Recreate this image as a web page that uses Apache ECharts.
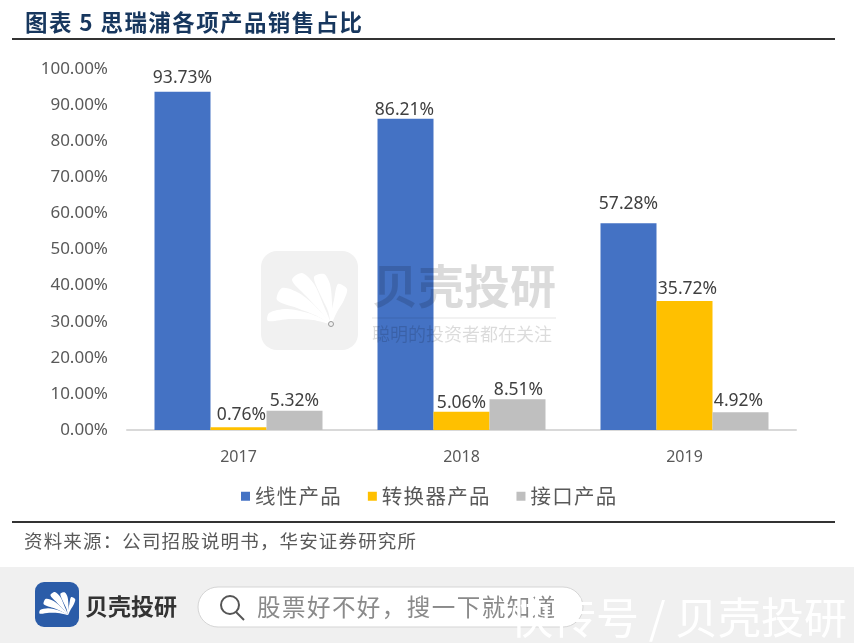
<!DOCTYPE html>
<html>
<head>
<meta charset="utf-8">
<style>
  html, body { margin: 0; padding: 0; background: #fff; }
  #chart { width: 854px; height: 643px; }
</style>
<script src="https://cdn.jsdelivr.net/npm/echarts@6/dist/echarts.min.js"></script>
</head>
<body>
<div id="chart"></div>
<script>
const categories = ['2017', '2018', '2019'];
const seriesNames = ['线性产品', '转换器产品', '接口产品'];
const linearValues = [93.73, 86.21, 57.28];
const converterValues = [0.76, 5.06, 35.72];
const interfaceValues = [5.32, 8.51, 4.92];
const seriesColors = ['#4472c4', '#ffc000', '#bfbfbf'];

// 原图标签离柱顶的距离不完全一样
const linearLabelGap = [5, 0, 10];
const converterLabelGap = [3, 0, 3];
const interfaceLabelGap = [1, 0, 2];
const linearLabelShift = [0, -1, 0];
const converterLabelShift = [3, 0, 3];
const interfaceLabelShift = [0, 1, -2];

const cjk = '"Noto Sans CJK SC", sans-serif';
const latin = '"Noto Sans", sans-serif';

// 贝壳 logo 的花瓣，以花心为原点
const petals = [
    [[0, 0], [-20, -10], [-44, -15], [-62, -11], [-63, -3], [-42, -5], [-18, -4]],
    [[0, 0], [-16, -18], [-32, -31], [-49, -36], [-54, -24], [-34, -16], [-14, -8]],
    [[0, 0], [-8, -20], [-17, -40], [-29, -51], [-39, -44], [-25, -28], [-10, -12]],
    [[0, 0], [1, -20], [-1, -40], [-7, -50], [-17, -47], [-11, -30], [-3, -13]],
    [[0, 0], [6, -12], [13, -24], [16, -35], [7, -40], [3, -24], [0, -10]]
];

function logo(x, y, scale) {
    return petals.map(function (pts) {
        return {
            type: 'polygon', x: x, y: y, scaleX: scale, scaleY: scale, z: 20,
            shape: { points: pts, smooth: 0.3 },
            style: { fill: '#fff' }
        };
    });
}

function spaced(str) {
    return str.split('').join('\u200a');
}

function label(text, x, y, size, color, weight, family, z) {
    return {
        type: 'text', x: x, y: y, z: z || 20,
        style: {
            text: text, fill: color, verticalAlign: 'middle',
            font: (weight || 'normal') + ' ' + size + 'px ' + (family || cjk)
        }
    };
}

function rule(y) {
    return {
        type: 'line', z: 20,
        shape: { x1: 12, y1: y, x2: 835, y2: y },
        style: { stroke: '#333', lineWidth: 2 }
    };
}

const graphics = [
    label(spaced('图表 5 思瑞浦各项产品销售占比'), 25, 22, 22.5, '#17375e', 'bold'),
    rule(39),
    rule(522),
    label(spaced('资料来源：公司招股说明书，华安证券研究所'), 24, 541, 18.5, '#595959'),

    // 中间水印
    { type: 'rect', z: 15, shape: { x: 261, y: 251, width: 97, height: 99, r: 16 }, style: { fill: '#f1f1f1' } },
    label('贝壳投研', 372, 286, 46, 'rgba(0,0,0,0.14)', 'bold'),
    { type: 'line', z: 20, shape: { x1: 372, y1: 318, x2: 556, y2: 318 }, style: { stroke: 'rgba(0,0,0,0.1)', lineWidth: 1 } },
    label('聪明的投资者都在关注', 372, 334, 18, 'rgba(0,0,0,0.14)'),

    // 底部栏
    { type: 'rect', z: 15, shape: { x: 0, y: 567, width: 854, height: 76 }, style: { fill: '#f0f0f0' } },
    { type: 'rect', z: 16, shape: { x: 35, y: 582, width: 44, height: 45, r: 9 }, style: { fill: '#2b5ca8' } },
    label('贝壳投研', 85, 606, 23, '#333', 'bold'),
    { type: 'rect', z: 16, shape: { x: 198, y: 587, width: 385, height: 40, r: 20 }, style: { fill: '#fff', stroke: '#d5d5d5', lineWidth: 1 } },
    { type: 'circle', z: 20, shape: { cx: 230, cy: 605, r: 9 }, style: { fill: 'none', stroke: '#555', lineWidth: 2 } },
    { type: 'line', z: 20, shape: { x1: 236, y1: 612, x2: 244, y2: 620 }, style: { stroke: '#555', lineWidth: 2 } },
    label(spaced('股票好不好，搜一下就知道'), 257, 607, 23.5, '#8a8a8a'),
    label('快传号 / 贝壳投研', 510, 618, 43, '#fff', 'normal', cjk, 22)
].concat(logo(331, 324, 1), logo(68, 615, 0.45), [
    { type: 'circle', z: 21, shape: { cx: 331, cy: 324, r: 2.5 }, style: { fill: '#f1f1f1', stroke: '#999', lineWidth: 1 } }
]);

const chart = echarts.init(document.getElementById('chart'), null, { renderer: 'canvas' });

function barSeries(i, values, gaps, shifts) {
    return {
        name: seriesNames[i],
        type: 'bar',
        data: values.map(function (v, j) {
            return { value: v, label: { distance: gaps[j], offset: [shifts[j], 0] } };
        }),
        barWidth: 56,
        barGap: 0,
        itemStyle: { color: seriesColors[i] },
        label: {
            show: true,
            position: 'top',
            formatter: function (p) { return p.value.toFixed(2) + '%'; },
            fontFamily: latin,
            fontSize: 17.5,
            color: '#404040'
        }
    };
}

chart.setOption({
    animation: false,
    backgroundColor: '#fff',
    grid: { left: 127, right: 58, top: 69, bottom: 213 },
    legend: {
        data: seriesNames,
        top: 481,
        left: 236,
        itemWidth: 9,
        itemHeight: 9,
        itemGap: 27,
        icon: 'rect',
        textStyle: { fontFamily: cjk, fontSize: 20.5, color: '#595959' },
        formatter: function (name) { return spaced(name); }
    },
    xAxis: {
        type: 'category',
        data: categories,
        axisLine: { lineStyle: { color: '#d9d9d9', width: 2 } },
        axisTick: { show: false },
        axisLabel: { fontFamily: latin, fontSize: 16, color: '#595959', margin: 19 }
    },
    yAxis: {
        type: 'value',
        min: 0,
        max: 100,
        interval: 10,
        axisLine: { show: false },
        axisTick: { show: false },
        splitLine: { show: false },
        axisLabel: {
            fontFamily: latin,
            fontSize: 17,
            color: '#595959',
            margin: 19,
            formatter: function (v) { return v.toFixed(2) + '%'; }
        }
    },
    series: [
        barSeries(0, linearValues, linearLabelGap, linearLabelShift),
        barSeries(1, converterValues, converterLabelGap, converterLabelShift),
        barSeries(2, interfaceValues, interfaceLabelGap, interfaceLabelShift)
    ],
    graphic: { elements: graphics }
});
</script>
</body>
</html>
